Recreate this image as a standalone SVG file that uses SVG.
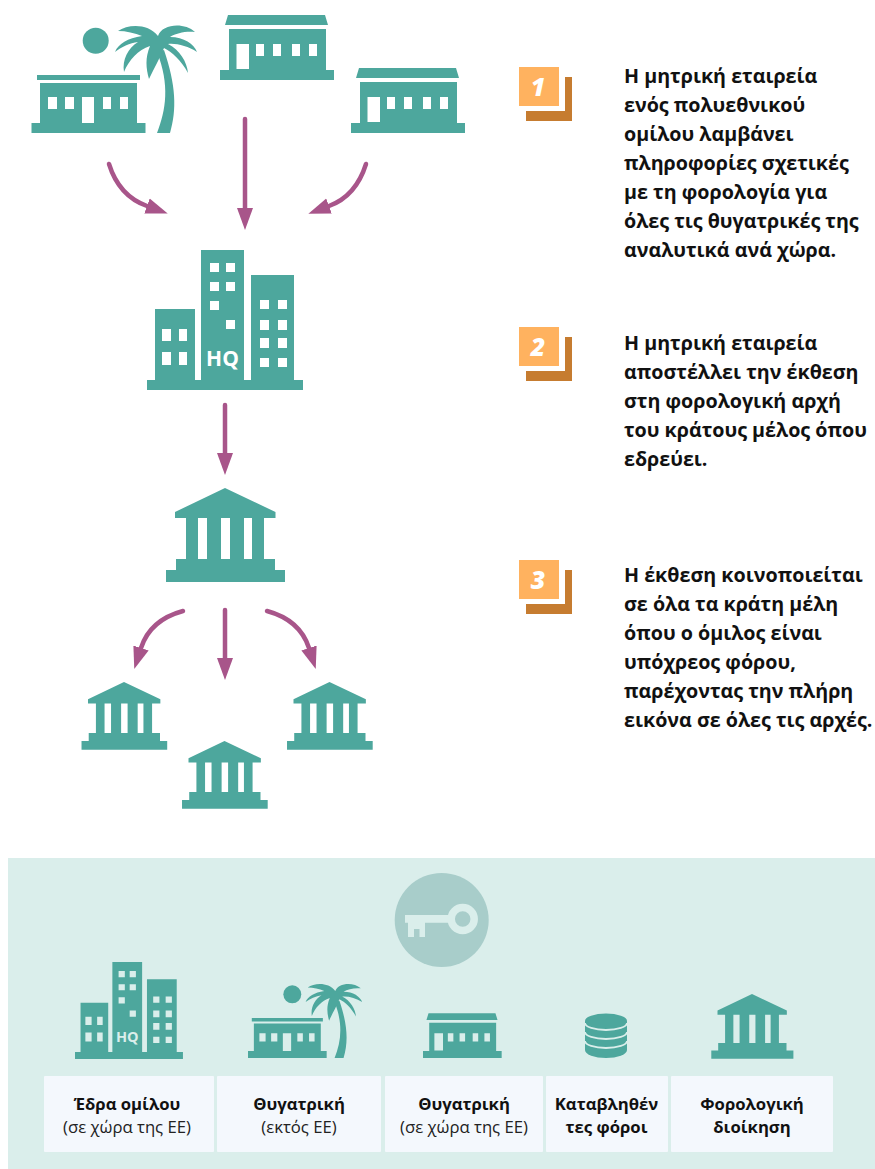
<svg xmlns="http://www.w3.org/2000/svg" width="875" height="1169" viewBox="0 0 875 1169">
<style>
.t{fill:#4DA79D}
.p{fill:#DAEEEB}
.link{fill:none;stroke:#A8558A;stroke-width:4.500;stroke-linecap:round}
.main{font-family:"Open Sans","Liberation Sans",sans-serif;font-weight:700;font-size:19.700px;fill:#111}
.lab{font-family:"Open Sans","Liberation Sans",sans-serif;font-size:16.700px;fill:#222;text-anchor:middle}
.b{font-weight:700;fill:#111}
.num{font-family:"Open Sans","Liberation Sans",sans-serif;font-weight:800;font-style:italic;font-size:25px;fill:#fff;text-anchor:middle}
.hq{font-family:"Open Sans","Liberation Sans",sans-serif;font-weight:700;font-size:21px;text-anchor:middle}
.front{fill:#FFB25F}
.back{fill:#C67C30}
.card{fill:#F4F8FD}
</style>
<defs>
<marker id="head" markerUnits="userSpaceOnUse" markerWidth="23" markerHeight="18" viewBox="0 0 23 18" refX="0" refY="9" orient="auto"><path d="M0,1 L22,9 L0,17 Z" fill="#A8558A"/></marker>
<g id="shop">
<path class="t" d="M225,25 L228,15 L325,15 L328,25 Z M229,29 H326 V70 H334 V80 H220 V70 H229 Z"/>
<path d="M236.500,44 H249 V69 H236.500 Z M256,44 H264 V56 H256 Z M273,44 H281 V56 H273 Z M292,44 H300 V56 H292 Z M309,44 H317 V56 H309 Z"/>
</g>
<g id="resort">
<circle class="t" cx="95.700" cy="40.700" r="13"/>
<path class="t" d="M37,75 H140 V80 H37 Z M40,83 H137 V123 H145.500 V133 H31.500 V123 H40 Z"/>
<path d="M48,97 H57 V109 H48 Z M65,97 H74 V109 H65 Z M82,97 H94 V123 H82 Z M103,97 H111 V109 H103 Z M120,97 H128 V109 H120 Z"/>
<path class="t" d="M157,133 C166,110 170,85 157,52 L164,50 C176,85 177,110 170,133 Z"/>
<path class="t" d="M118,31 C128,24 148,23 158,36 C162,24 184,22 195,32 C186,31 176,33 170,37 C184,37 194,44 197,52 C188,46 176,43 168,44 C180,50 187,62 188,73 C181,60 172,52 164,48 C160,58 154,68 149,79 C146,68 145,58 150,46 C138,50 129,60 124,72 C122,60 128,48 138,42 C130,43 121,47 115,52 C118,44 128,38 142,36 C135,33 126,31 118,31 Z"/>
</g>
<g id="hqb">
<path class="t" d="M155,309 H195 V380 H201 V250 H244 V380 H251 V275 H294 V380 H303 V390 H147 V380 H155 Z"/>
<path d="M162,329 h9 v12 h-9 Z M179,329 h8 v12 h-8 Z M162,352 h9 v13 h-9 Z M179,352 h8 v13 h-8 Z M210,263 h9 v9 h-9 Z M226,263 h9 v9 h-9 Z M210,282 h9 v9 h-9 Z M226,282 h9 v9 h-9 Z M210,301 h9 v9 h-9 Z M226,320 h9 v9 h-9 Z M260,300 h9 v9 h-9 Z M278,300 h9 v9 h-9 Z M260,320 h9 v10 h-9 Z M278,320 h9 v10 h-9 Z M260,338 h9 v10 h-9 Z M278,338 h9 v10 h-9 Z M260,358 h9 v9 h-9 Z M278,358 h9 v9 h-9 Z"/>
<text class="hq" x="222.500" y="366">HQ</text>
</g>
<g id="bank">
<path class="t" d="M225,488 L275.500,512 V518 H264 V559 H275 V570 H285 V582 H166 V570 H176 V559 H186 V518 H175 V512 Z"/>
<path d="M198,518 h9 v41 h-9 Z M221,518 h9 v41 h-9 Z M244,518 h8 v41 h-8 Z"/>
</g>
<g id="badge">
<path class="back" d="M526,111 H565 V77 H572 V121 H526 Z"/>
<rect class="front" x="519" y="67" width="40" height="39"/>
</g>
</defs>
<rect width="875" height="1169" fill="#fff"/>
<rect id="panel" class="p" x="8" y="858" width="867" height="311"/>

<g id="connectors">
<path class="link" marker-end="url(#head)" d="M109,164 Q119,196 147,206"/>
<path class="link" marker-end="url(#head)" d="M245,119 V208"/>
<path class="link" marker-end="url(#head)" d="M366,164 Q356,196 329,206"/>
<path class="link" marker-end="url(#head)" d="M225,405 V453"/>
<path class="link" marker-end="url(#head)" d="M183,611 Q150,620 141,648"/>
<path class="link" marker-end="url(#head)" d="M225,610 V658"/>
<path class="link" marker-end="url(#head)" d="M267,611 Q300,620 309,648"/>
</g>

<g id="node-resort"><use href="#resort" fill="#fff"/></g>
<g id="node-shop-centre"><use href="#shop" fill="#fff"/></g>
<g id="node-shop-right"><use href="#shop" fill="#fff" transform="translate(131,53)"/></g>
<g id="node-hq"><use href="#hqb" fill="#fff"/></g>
<g id="node-authority"><use href="#bank" fill="#fff"/></g>
<g id="node-authority-left"><use href="#bank" fill="#fff" transform="translate(124,682) scale(.72) translate(-225,-488)"/></g>
<g id="node-authority-right"><use href="#bank" fill="#fff" transform="translate(329.500,682) scale(.72) translate(-225,-488)"/></g>
<g id="node-authority-bottom"><use href="#bank" fill="#fff" transform="translate(224.500,741) scale(.72) translate(-225,-488)"/></g>

<g id="badge-1"><use href="#badge"/><text class="num" x="538" y="96">1</text></g>
<g id="badge-2"><use href="#badge" y="260"/><text class="num" x="538" y="356">2</text></g>
<g id="badge-3"><use href="#badge" y="493"/><text class="num" x="538" y="589">3</text></g>

<g id="text-1" class="main">
<text x="624" y="83">Η μητρική εταιρεία</text>
<text x="624" y="112">ενός πολυεθνικού</text>
<text x="624" y="141">ομίλου λαμβάνει</text>
<text x="624" y="170">πληροφορίες σχετικές</text>
<text x="624" y="199">με τη φορολογία για</text>
<text x="624" y="228">όλες τις θυγατρικές της</text>
<text x="624" y="257">αναλυτικά ανά χώρα.</text>
</g>
<g id="text-2" class="main">
<text x="624" y="350">Η μητρική εταιρεία</text>
<text x="624" y="379">αποστέλλει την έκθεση</text>
<text x="624" y="408">στη φορολογική αρχή</text>
<text x="624" y="437">του κράτους μέλος όπου</text>
<text x="624" y="466">εδρεύει.</text>
</g>
<g id="text-3" class="main">
<text x="624" y="582">Η έκθεση κοινοποιείται</text>
<text x="624" y="611">σε όλα τα κράτη μέλη</text>
<text x="624" y="640">όπου ο όμιλος είναι</text>
<text x="624" y="669">υπόχρεος φόρου,</text>
<text x="624" y="698">παρέχοντας την πλήρη</text>
<text x="624" y="727">εικόνα σε όλες τις αρχές.</text>
</g>

<g id="key">
<circle cx="441.700" cy="920" r="47" fill="#A8CDCA"/>
<circle cx="462.700" cy="919" r="11.500" fill="none" stroke="#DAEEEB" stroke-width="7.500"/>
<path class="p" d="M405,915 H452 V922.700 H405 Z M408,922 H425 V937 H419.500 V929 H414 V937 H408 Z"/>
</g>

<g id="legend-hq"><use href="#hqb" fill="#DAEEEB" transform="translate(75,962) scale(.692) translate(-147,-250)"/></g>
<g id="legend-resort"><use href="#resort" fill="#DAEEEB" transform="translate(248,1058) scale(.69) translate(-31.500,-133)"/></g>
<g id="legend-shop"><use href="#shop" fill="#DAEEEB" transform="translate(423,1058) scale(.69) translate(-220,-80)"/></g>
<g id="legend-coins">
<path class="t" d="M585,1021 A21,7.500 0 0 1 627,1021 V1050 A21,8 0 0 1 585,1050 Z"/>
<path fill="none" stroke="#DAEEEB" stroke-width="1.800" d="M585,1023 A21,7 0 0 0 627,1023 M585,1032 A21,7 0 0 0 627,1032 M585,1041 A21,7 0 0 0 627,1041"/>
</g>
<g id="legend-bank"><use href="#bank" fill="#DAEEEB" transform="translate(752,994) scale(.69) translate(-225,-488)"/></g>

<g id="card-1"><rect class="card" x="44" y="1076" width="170" height="76" rx="1"/><text class="lab b" x="127" y="1110">Έδρα ομίλου</text><text class="lab" x="127" y="1133">(σε χώρα της ΕΕ)</text></g>
<g id="card-2"><rect class="card" x="217" y="1076" width="164" height="76" rx="1"/><text class="lab b" x="299" y="1110">Θυγατρική</text><text class="lab" x="299" y="1133">(εκτός ΕΕ)</text></g>
<g id="card-3"><rect class="card" x="385" y="1076" width="158" height="76" rx="1"/><text class="lab b" x="464" y="1110">Θυγατρική</text><text class="lab" x="464" y="1133">(σε χώρα της ΕΕ)</text></g>
<g id="card-4"><rect class="card" x="546" y="1076" width="122" height="76" rx="1"/><text class="lab b" x="606.500" y="1110">Καταβληθέν</text><text class="lab b" x="606.500" y="1133">τες φόροι</text></g>
<g id="card-5"><rect class="card" x="671" y="1076" width="162" height="76" rx="1"/><text class="lab b" x="752" y="1110">Φορολογική</text><text class="lab b" x="752" y="1133">διοίκηση</text></g>
</svg>
